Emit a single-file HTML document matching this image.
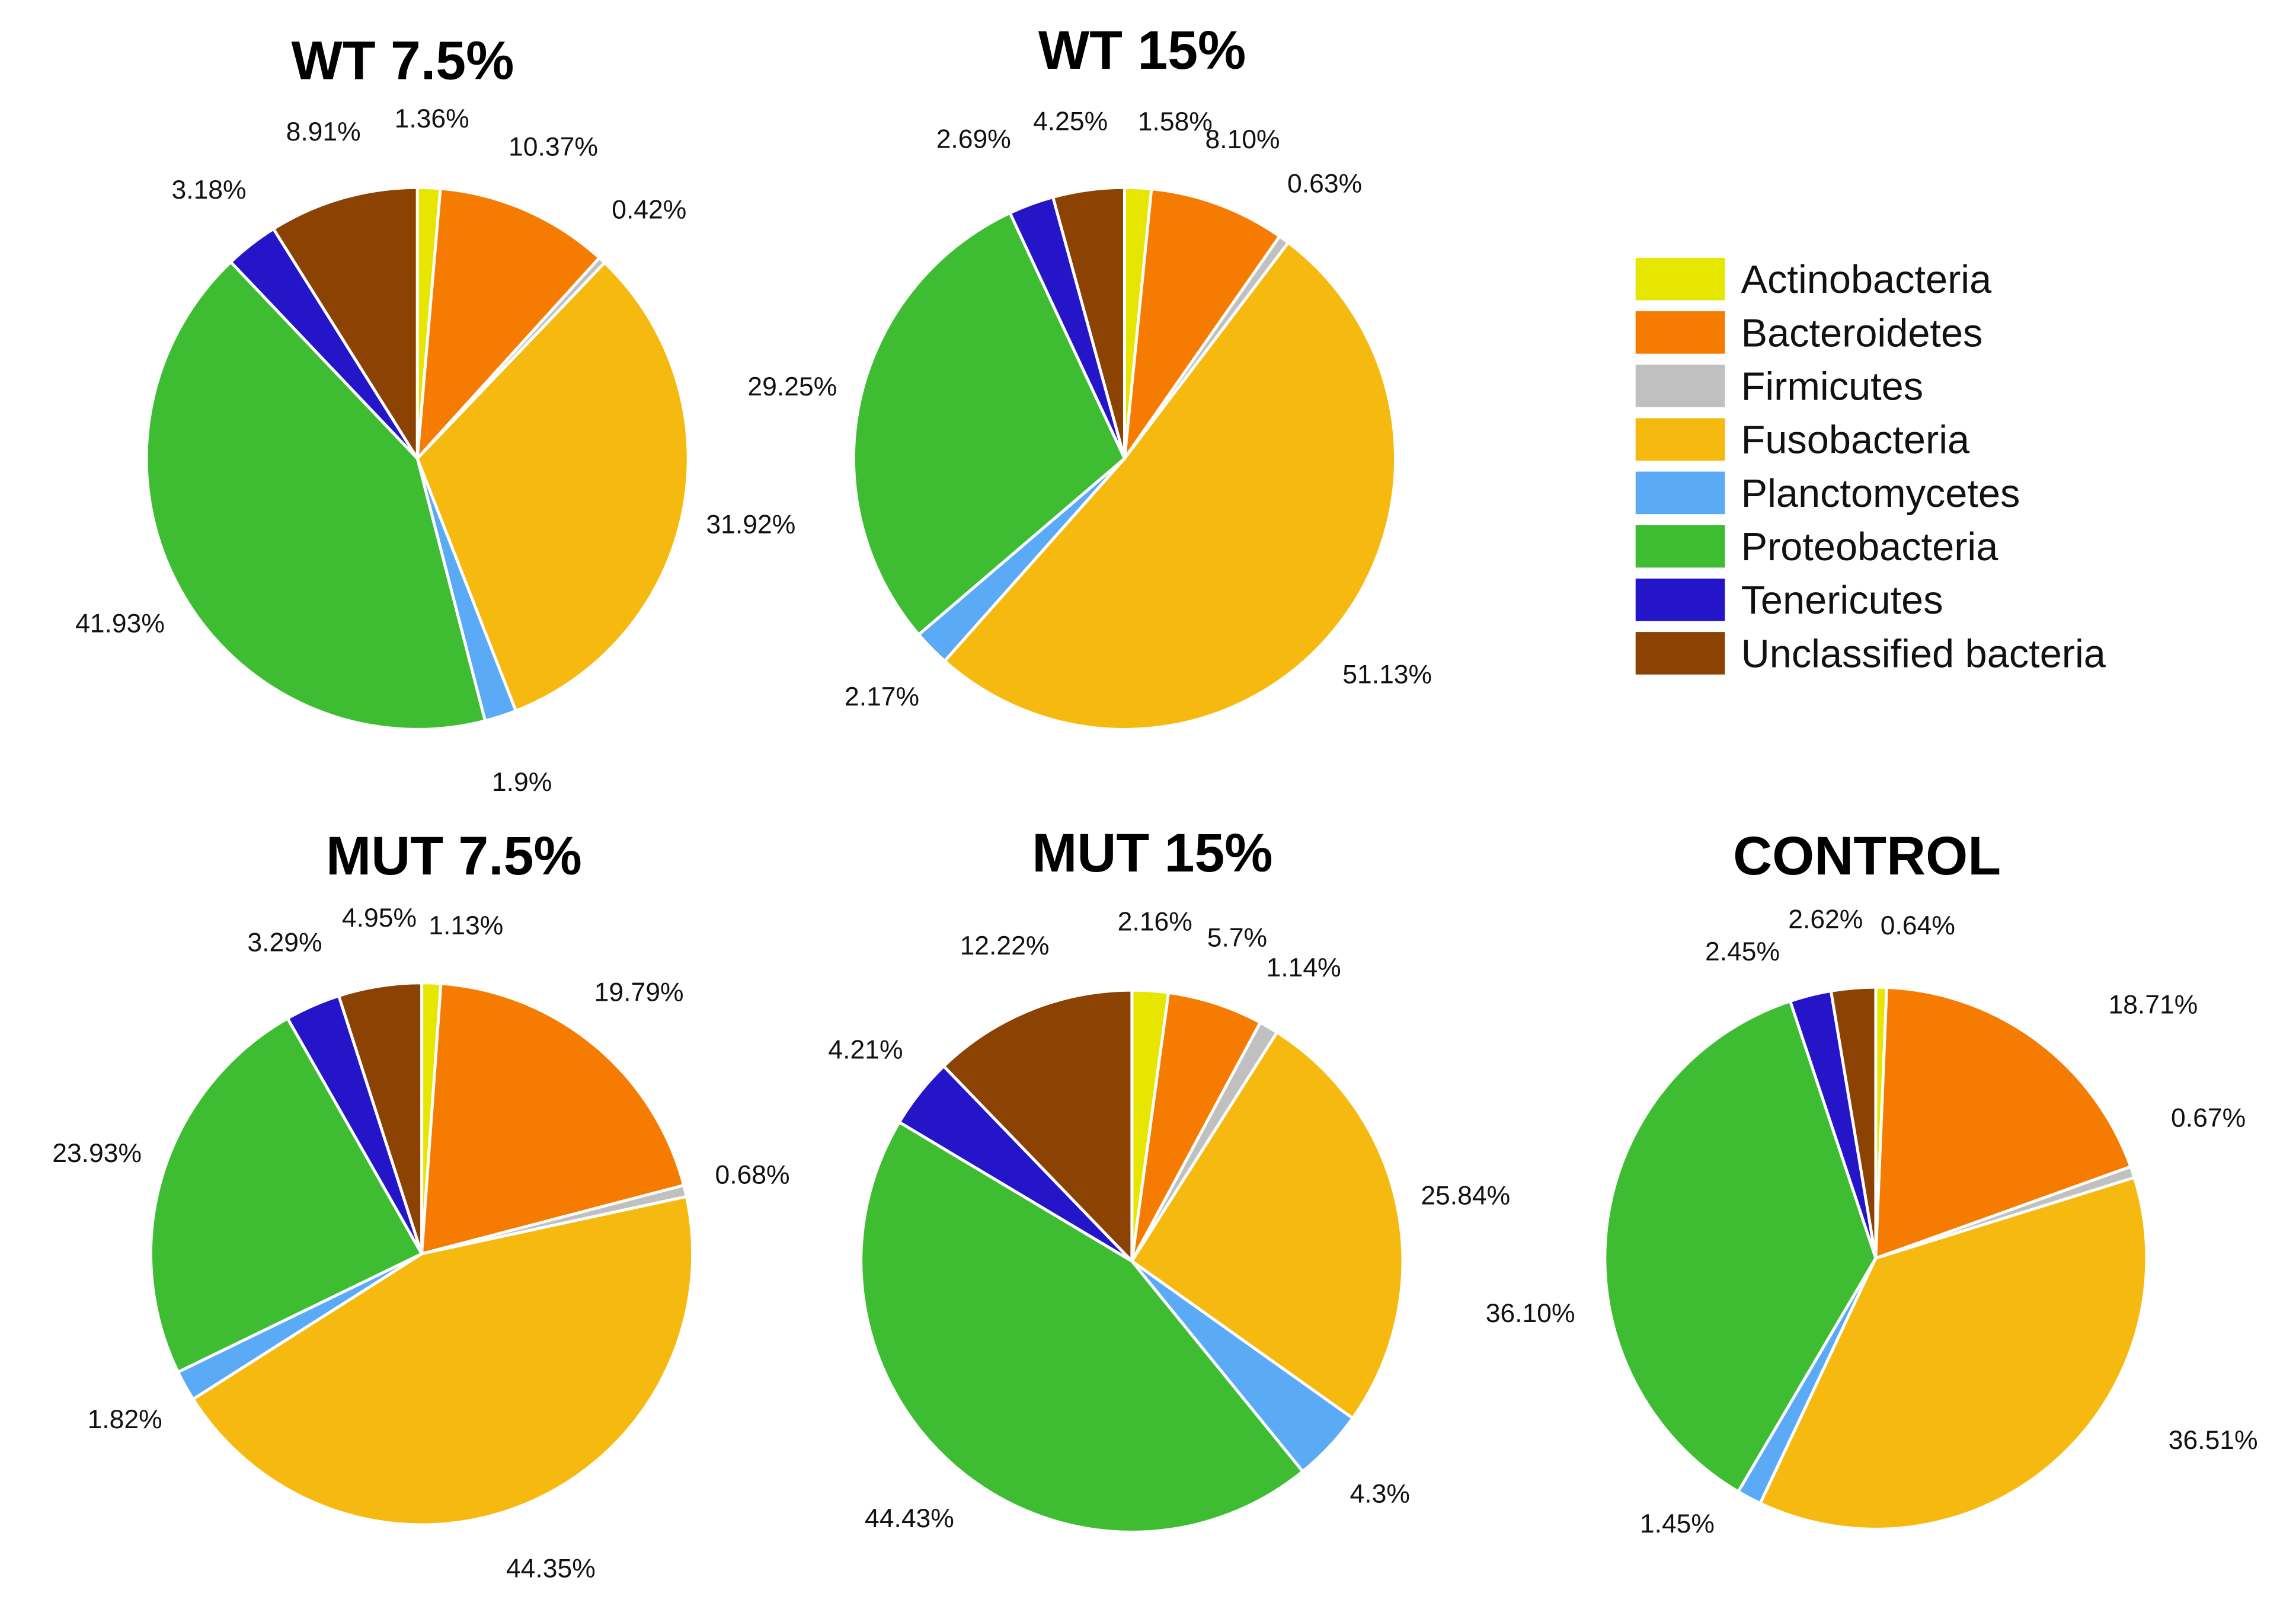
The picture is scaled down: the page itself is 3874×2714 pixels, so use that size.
<!DOCTYPE html>
<html><head><meta charset="utf-8">
<style>
html,body{margin:0;padding:0;background:#fff;}
svg{display:block;font-family:"Liberation Sans",Arial,sans-serif;}
</style></head>
<body>
<svg id="chart" width="3874" height="2714" viewBox="0 0 1568 1098.5" xmlns="http://www.w3.org/2000/svg">
<rect width="1568" height="1098.5" fill="#fff"/>
<g id="pies"></g>
<g id="legend"></g>
</svg>
<script>
const categories = ["Actinobacteria","Bacteroidetes","Firmicutes","Fusobacteria","Planctomycetes","Proteobacteria","Tenericutes","Unclassified bacteria"];
const colors = ["#e6e600","#f57c00","#c0c0c0","#f5b90f","#5aaaf5","#3fbd32","#2415c8","#8b4203"];
const chartTitles = ["WT 7.5%","WT 15%","MUT 7.5%","MUT 15%","CONTROL"];
const wt75 = [1.36,10.37,0.42,31.92,1.9,41.93,3.18,8.91];
const wt15 = [1.58,8.10,0.63,51.13,2.17,29.25,2.69,4.25];
const mut75 = [1.13,19.79,0.68,44.35,1.82,23.93,3.29,4.95];
const mut15 = [2.16,5.7,1.14,25.84,4.3,44.43,4.21,12.22];
const control = [0.64,18.71,0.67,36.51,1.45,36.10,2.45,2.62];
const labelWT75 = ["1.36%","10.37%","0.42%","31.92%","1.9%","41.93%","3.18%","8.91%"];
const labelWT15 = ["1.58%","8.10%","0.63%","51.13%","2.17%","29.25%","2.69%","4.25%"];
const labelMUT75 = ["1.13%","19.79%","0.68%","44.35%","1.82%","23.93%","3.29%","4.95%"];
const labelMUT15 = ["2.16%","5.7%","1.14%","25.84%","4.3%","44.43%","4.21%","12.22%"];
const labelCTRL = ["0.64%","18.71%","0.67%","36.51%","1.45%","36.10%","2.45%","2.62%"];

const NS="http://www.w3.org/2000/svg";
const layout=[
 {cx:285,cy:313,r:185,tx:275,ty:54},
 {cx:768,cy:313,r:185,tx:780,ty:47},
 {cx:288,cy:856,r:185,tx:310,ty:597},
 {cx:773,cy:861,r:185,tx:787,ty:595},
 {cx:1281,cy:859,r:185,tx:1275,ty:597}
];
const labelNudge=[
 [[0,0],[0,0],[0,0],[0,0],[0,0],[0,0],[0,0],[0,0]],
 [[23,2],[0,0],[0,0],[0,0],[0,0],[0,0],[-23,0],[-6,0]],
 [[22,8],[0,0],[0,0],[0,0],[0,0],[0,0],[0,0],[7,0]],
 [[0,0],[0,0],[0,0],[0,0],[0,0],[0,0],[0,0],[0,0]],
 [[24,5],[52,14],[7,-22],[78,-51],[-27,-24],[-5,62],[-35,16],[-15,0]]
];
const series=[wt75,wt15,mut75,mut15,control];
const labels=[labelWT75,labelWT15,labelMUT75,labelMUT15,labelCTRL];
const keys=["wt-7-5","wt-15","mut-7-5","mut-15","control"];
const pies=document.getElementById('pies');
function pt(cx,cy,r,frac){const a=frac*2*Math.PI;return [cx+r*Math.sin(a),cy-r*Math.cos(a)];}
series.forEach((vals,i)=>{
  const L=layout[i];
  const g=document.createElementNS(NS,'g');
  
  
  pies.appendChild(g);
  const t=document.createElementNS(NS,'text');
  
  
  t.setAttribute('x',L.tx);t.setAttribute('y',L.ty);
  t.setAttribute('text-anchor','middle');t.setAttribute('font-size','37');t.setAttribute('font-weight','bold');
  t.textContent=chartTitles[i];g.appendChild(t);
  const total=vals.reduce((a,b)=>a+b,0);
  let cum=0;
  vals.forEach((v,j)=>{
    const f0=cum/total,f1=(cum+v)/total;cum+=v;
    const p0=pt(L.cx,L.cy,L.r,f0),p1=pt(L.cx,L.cy,L.r,f1);
    const large=(f1-f0)>0.5?1:0;
    const p=document.createElementNS(NS,'path');
    
    
    p.setAttribute('d',`M${L.cx},${L.cy}L${p0[0]},${p0[1]}A${L.r},${L.r} 0 ${large} 1 ${p1[0]},${p1[1]}Z`);
    p.setAttribute('fill',colors[j]);p.setAttribute('stroke','#fff');p.setAttribute('stroke-width','2');
    g.appendChild(p);
    const lp=pt(L.cx,L.cy,L.r*1.255,(f0+f1)/2);
    const nd=labelNudge[i][j];
    const lt=document.createElementNS(NS,'text');
    
    
    lt.setAttribute('x',lp[0]+nd[0]);lt.setAttribute('y',lp[1]+6+nd[1]);
    lt.setAttribute('text-anchor','middle');lt.setAttribute('font-size','18');lt.setAttribute('fill','#111');
    lt.textContent=labels[i][j];g.appendChild(lt);
  });
});
const lg=document.getElementById('legend');
categories.forEach((c,j)=>{
  const y=176+j*36.5;
  const r=document.createElementNS(NS,'rect');
  
  
  r.setAttribute('x',1117);r.setAttribute('y',y);r.setAttribute('width',61);r.setAttribute('height',29);r.setAttribute('fill',colors[j]);
  lg.appendChild(r);
  const t=document.createElementNS(NS,'text');
  
  
  t.setAttribute('x',1189);t.setAttribute('y',y+24);t.setAttribute('font-size','27');t.setAttribute('fill','#111');
  t.textContent=c;lg.appendChild(t);
});
</script>
</body></html>
